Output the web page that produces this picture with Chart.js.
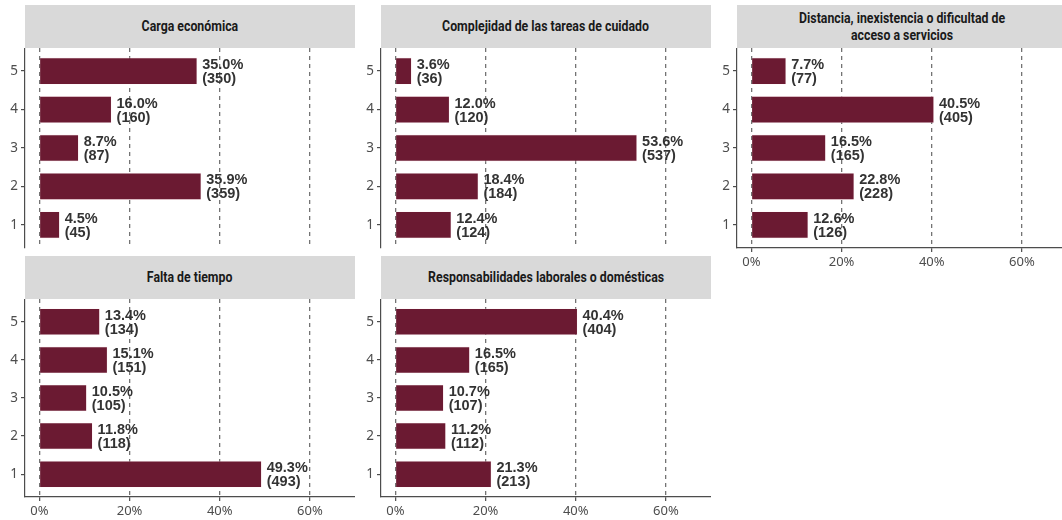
<!DOCTYPE html>
<html>
<head>
<meta charset="utf-8">
<script src="https://cdn.jsdelivr.net/npm/chart.js@4/dist/chart.umd.min.js"></script>
<style>
  html, body { margin: 0; padding: 0; background: #ffffff; }
  body { width: 1062px; height: 520px; overflow: hidden; position: relative; }
  .strip {
    position: absolute; background: #d9d9d9; box-sizing: border-box;
    display: flex; align-items: center; justify-content: center; text-align: center;
    overflow: hidden;
  }
  .strip span {
    display: inline-block; white-space: nowrap;
    font-family: Roboto, "Noto Sans", sans-serif;
    font-weight: bold; font-size: 14px; line-height: 16.5px; color: #1a1a1a;
    transform: scaleX(0.88); transform-origin: center center;
  }
  canvas { position: absolute; }
</style>
</head>
<body>
<script>
// Answer categories (bottom to top on each panel)
const categories = [1, 2, 3, 4, 5];

// Facet titles
const titles = [
  "Carga económica",
  "Complejidad de las tareas de cuidado",
  "Distancia, inexistencia o dificultad de<br>acceso a servicios",
  "Falta de tiempo",
  "Responsabilidades laborales o domésticas"
];

// Percentages per category 1..5
const pctCarga        = [4.5, 35.9, 8.7, 16.0, 35.0];
const pctComplejidad  = [12.4, 18.4, 53.6, 12.0, 3.6];
const pctDistancia    = [12.6, 22.8, 16.5, 40.5, 7.7];
const pctTiempo       = [49.3, 11.8, 10.5, 15.1, 13.4];
const pctResponsab    = [21.3, 11.2, 10.7, 16.5, 40.4];

// Counts per category 1..5
const nCarga          = [45, 359, 87, 160, 350];
const nComplejidad    = [124, 184, 537, 120, 36];
const nDistancia      = [126, 228, 165, 405, 77];
const nTiempo         = [493, 118, 105, 151, 134];
const nResponsab      = [213, 112, 107, 165, 404];

// X axis tick values (percent)
const xTicks = [0, 20, 40, 60];

const pctSeries = [pctCarga, pctComplejidad, pctDistancia, pctTiempo, pctResponsab];
const nSeries   = [nCarga, nComplejidad, nDistancia, nTiempo, nResponsab];

// Facet grid geometry
const colAxisX = [25, 381, 737];
const panelW = 330;
const stripTop = [5, 256];
const stripH = 43;
const plotTop = [48, 299];
const plotH = [200, 198];
const leftW = 25;
const bottomH = 26;

const BAR = '#6b1a32';
const AXIS = '#4d4d4d';

// Value labels "xx.x%" over "(n)" to the right of each bar
const barLabels = {
  id: 'barLabels',
  afterDatasetsDraw(chart, args, opts) {
    const ctx = chart.ctx;
    const meta = chart.getDatasetMeta(0);
    ctx.save();
    ctx.font = 'bold 14.5px "Liberation Sans", Arial, sans-serif';
    ctx.fillStyle = '#333333';
    ctx.textAlign = 'left';
    ctx.textBaseline = 'middle';
    meta.data.forEach((bar, i) => {
      const x = bar.x + 5;
      ctx.fillText(opts.pct[i].toFixed(1) + '%', x, bar.y - 6);
      ctx.fillText('(' + opts.n[i] + ')', x, bar.y + 8);
    });
    ctx.restore();
  }
};

function noEdgePadding(s) {
  s.paddingTop = 0; s.paddingBottom = 0; s.paddingLeft = 0; s.paddingRight = 0;
}

function makePanel(idx, row, col, showX) {
  const strip = document.createElement('div');
  strip.className = 'strip';
  strip.style.left = colAxisX[col] + 'px';
  strip.style.top = stripTop[row] + 'px';
  strip.style.width = panelW + 'px';
  strip.style.height = stripH + 'px';
  const span = document.createElement('span');
  span.innerHTML = titles[idx];
  strip.appendChild(span);
  document.body.appendChild(strip);

  const cv = document.createElement('canvas');
  cv.width = leftW + panelW;
  cv.height = plotH[row] + bottomH;
  cv.style.left = (colAxisX[col] - leftW) + 'px';
  cv.style.top = plotTop[row] + 'px';
  document.body.appendChild(cv);

  const pct = pctSeries[idx];
  const n = nSeries[idx];

  new Chart(cv, {
    type: 'bar',
    data: {
      datasets: [{
        data: categories.map((c, i) => ({ x: pct[i], y: c })),
        backgroundColor: BAR,
        borderColor: 'rgba(255,235,240,0.85)',
        borderWidth: 0.6,
        barPercentage: 0.7,
        categoryPercentage: 1
      }]
    },
    options: {
      indexAxis: 'y',
      responsive: false,
      animation: false,
      devicePixelRatio: 1,
      layout: { padding: 0 },
      plugins: {
        legend: { display: false },
        tooltip: { enabled: false },
        barLabels: { pct: pct, n: n }
      },
      scales: {
        x: {
          type: 'linear',
          min: -3.2,
          max: 70,
          afterBuildTicks: s => { s.ticks = xTicks.map(v => ({ value: v })); },
          afterFit: s => { s.height = bottomH; noEdgePadding(s); },
          ticks: {
            display: showX,
            padding: 2,
            color: AXIS,
            font: { family: '"Noto Sans", sans-serif', size: 13 },
            callback: v => v + '%'
          },
          grid: {
            color: '#737373',
            lineWidth: 1.3,
            drawTicks: showX,
            tickLength: 4,
            tickColor: AXIS,
            tickWidth: 1.2,
            tickBorderDash: []
          },
          border: { display: showX, color: AXIS, width: 1.2, dash: [4, 4] }
        },
        y: {
          type: 'linear',
          offset: false,
          min: 0.4,
          max: 5.6,
          afterBuildTicks: s => { s.ticks = categories.map(v => ({ value: v })); },
          afterFit: s => { s.width = leftW; noEdgePadding(s); },
          ticks: {
            padding: 3,
            color: AXIS,
            font: { family: '"Noto Sans", sans-serif', size: 13.5 },
            callback: v => String(v)
          },
          grid: {
            offset: false,
            drawOnChartArea: false,
            drawTicks: true,
            tickLength: 4,
            color: AXIS,
            lineWidth: 1.2
          },
          border: { display: true, color: AXIS, width: 1.2 }
        }
      }
    },
    plugins: [barLabels]
  });
}

makePanel(0, 0, 0, false);
makePanel(1, 0, 1, false);
makePanel(2, 0, 2, true);
makePanel(3, 1, 0, true);
makePanel(4, 1, 1, true);
</script>
</body>
</html>
